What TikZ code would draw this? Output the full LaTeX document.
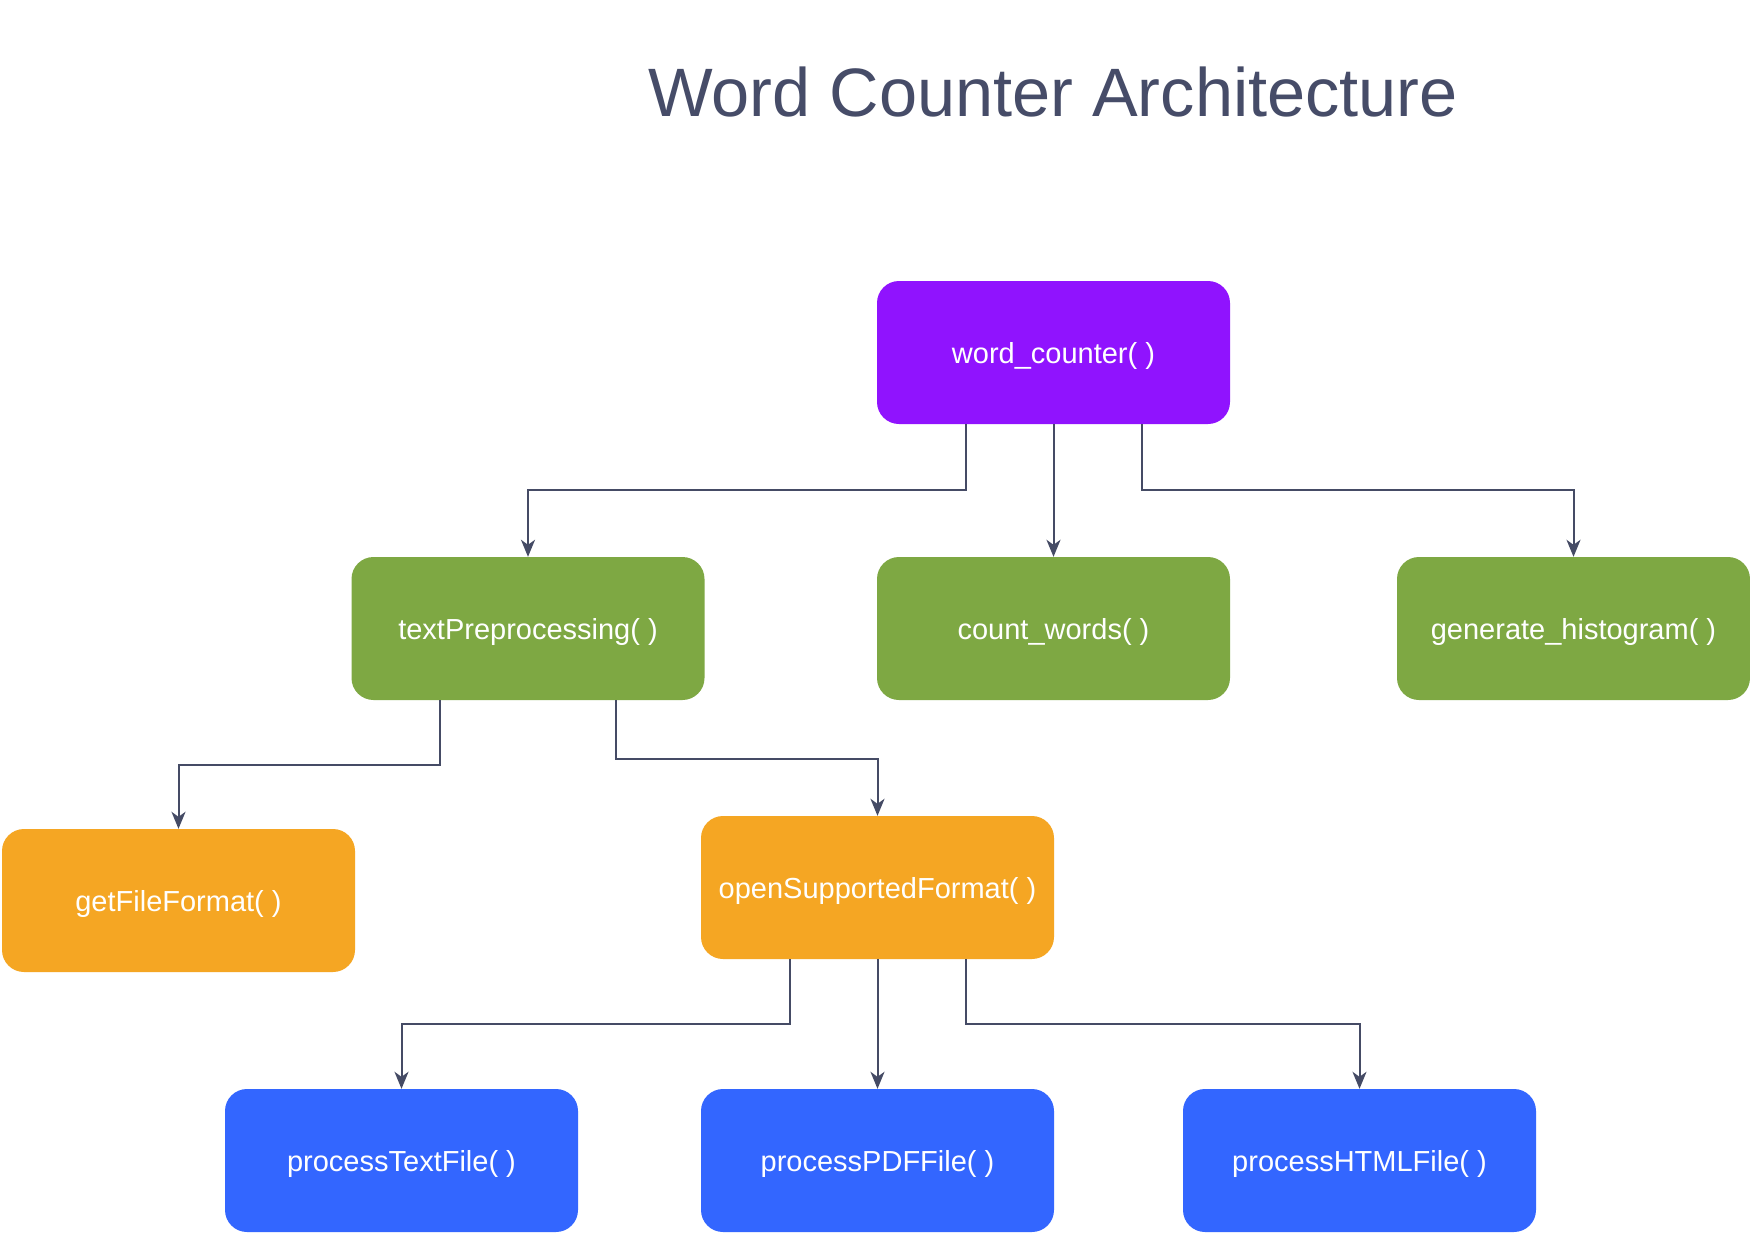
\documentclass[tikz,border=0pt]{standalone}
\usepackage{fontspec}
\setmainfont{Liberation Sans}
\usetikzlibrary{arrows.meta}
\definecolor{cpurple}{HTML}{9013FE}
\definecolor{cgreen}{HTML}{7EA843}
\definecolor{corange}{HTML}{F5A623}
\definecolor{cblue}{HTML}{3366FF}
\definecolor{cline}{HTML}{454B65}
\definecolor{ctitle}{HTML}{464C68}
\tikzset{
  box/.style={rectangle, rounded corners=22pt, minimum width=353pt, minimum height=143pt, inner sep=0pt, text=white, font=\fontsize{29}{35}\selectfont},
  lbl/.style={text=white, font=\fontsize{29}{35}\selectfont, anchor=center, yshift=-3pt},
  conn/.style={draw=cline, line width=2pt, -{Stealth[length=17pt,width=14pt,inset=5pt]}},
}
\begin{document}
\begin{tikzpicture}[x=1pt,y=-1pt]
\useasboundingbox[fill=white] (0,0) rectangle (1750,1234);
\node[text=ctitle, font=\fontsize{68.5}{80}\selectfont, anchor=base] (title) at (1053,116) {Word Counter Architecture};

\node[box, fill=cpurple] (wc) at (1053.5,352.5) {};
\node[box, fill=cgreen] (tp) at (528,628.5) {};
\node[box, fill=cgreen] (cw) at (1053.5,628.5) {};
\node[box, fill=cgreen] (gh) at (1573.5,628.5) {};
\node[box, fill=corange] (gf) at (178.5,900.5) {};
\node[box, fill=corange] (osf) at (877.5,887.5) {};
\node[box, fill=cblue] (ptf) at (401.5,1160.5) {};
\node[box, fill=cblue] (pdf) at (877.5,1160.5) {};
\node[box, fill=cblue] (html) at (1359.5,1160.5) {};

\node[lbl] (wct) at (wc) {word\_counter( )};
\node[lbl] (tpt) at (tp) {textPreprocessing( )};
\node[lbl] (cwt) at (cw) {count\_words( )};
\node[lbl] (ght) at (gh) {generate\_histogram( )};
\node[lbl] (gft) at (gf) {getFileFormat( )};
\node[lbl] (osft) at (osf) {openSupportedFormat( )};
\node[lbl] (ptft) at (ptf) {processTextFile( )};
\node[lbl] (pdft) at (pdf) {processPDFFile( )};
\node[lbl] (htmlt) at (html) {processHTMLFile( )};

\coordinate (y1) at (0,490);
\coordinate (y2) at (0,765);
\coordinate (y3) at (0,759);
\coordinate (y4) at (0,1024);
\coordinate (wcL) at ([xshift=-88pt]wc.south);
\coordinate (wcR) at ([xshift=88pt]wc.south);
\coordinate (tpL) at ([xshift=-88pt]tp.south);
\coordinate (tpR) at ([xshift=88pt]tp.south);
\coordinate (osfL) at ([xshift=-88pt]osf.south);
\coordinate (osfR) at ([xshift=88pt]osf.south);

\draw[conn] (wcL) -- (wcL |- y1) -| (tp.north);
\draw[conn] (wc.south) -- (cw.north);
\draw[conn] (wcR) -- (wcR |- y1) -| (gh.north);
\draw[conn] (tpL) -- (tpL |- y2) -| (gf.north);
\draw[conn] (tpR) -- (tpR |- y3) -| (osf.north);
\draw[conn] (osfL) -- (osfL |- y4) -| (ptf.north);
\draw[conn] (osf.south) -- (pdf.north);
\draw[conn] (osfR) -- (osfR |- y4) -| (html.north);
\end{tikzpicture}
\end{document}
